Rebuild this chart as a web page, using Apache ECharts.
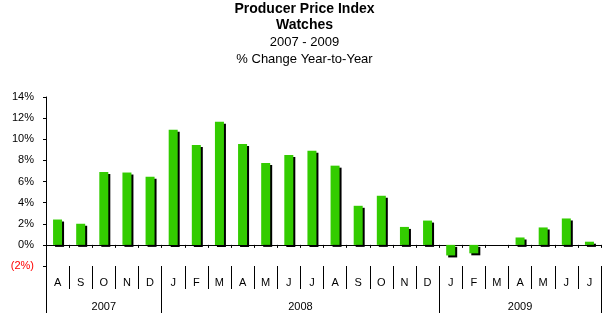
<!DOCTYPE html>
<html>
<head>
<meta charset="utf-8">
<script src="https://cdn.jsdelivr.net/npm/echarts@6/dist/echarts.min.js"></script>
<style>html,body{margin:0;padding:0;background:#fff}#c{width:609px;height:325px}</style>
</head>
<body>
<div id="c"></div>
<script>
var months = ['A','S','O','N','D','J','F','M','A','M','J','J','A','S','O','N','D','J','F','M','A','M','J','J'];
var values = [2.4,2.0,6.9,6.85,6.45,10.9,9.45,11.65,9.55,7.75,8.5,8.9,7.5,3.7,4.65,1.7,2.3,-1.0,-0.8,0,0.7,1.65,2.5,0.3];
var years = ['2007','2008','2009'];
var yearBounds = [0,5,17,24];
var yearCenters = [2.5,11,20.5];
var yTicks = {min:-2,max:14,interval:2};
var titles = ['Producer Price Index','Watches','2007 - 2009','% Change Year-to-Year'];

var FF = "'Liberation Sans', Arial, sans-serif";
var chart = echarts.init(document.getElementById('c'), null, {renderer:'canvas'});
var titleTops = [2,18,36,53];
chart.setOption({
  animation:false,
  backgroundColor:'#fff',
  title: titles.map(function(t,i){
    return {text:t, left:'center', top:titleTops[i], padding:0,
      textStyle:{fontFamily:FF, fontSize: i<2?14:13, fontWeight: i<2?'bold':'normal', color:'#000'}};
  }),
  grid:{left:46, right:8, top:97, bottom:59, containLabel:false},
  xAxis:[
    {type:'category', data:months, position:'bottom',
      axisLine:{onZero:true, lineStyle:{color:'#000', width:1}},
      axisTick:{show:true, length:3, lineStyle:{color:'#000'}},
      axisLabel:{show:false}},
    {type:'category', data:months, position:'bottom', offset:0,
      axisLine:{show:false, onZero:false},
      axisTick:{show:true, length:23, lineStyle:{color:'#000'}},
      axisLabel:{show:true, margin:11, fontFamily:FF, fontSize:11, color:'#000', interval:0}},
    {type:'value', min:0, max:24, position:'bottom', offset:0,
      splitLine:{show:false},
      axisLine:{show:false, onZero:false},
      axisTick:{show:true, length:47, customValues:yearBounds, lineStyle:{color:'#000'}},
      axisLabel:{show:true, margin:35, customValues:yearCenters, fontFamily:FF, fontSize:11, color:'#000',
        formatter:function(v){ return years[yearCenters.indexOf(v)] || ''; }}}
  ],
  yAxis:{type:'value', min:yTicks.min, max:yTicks.max, interval:yTicks.interval,
    splitLine:{show:false},
    axisLine:{show:true, onZero:false, lineStyle:{color:'#000'}},
    axisTick:{show:true, length:3, lineStyle:{color:'#000'}},
    axisLabel:{margin:12, fontFamily:FF, fontSize:11,
      color:function(v){ return Number(v)<0 ? '#ff0000' : '#000'; },
      formatter:function(v){ return v<0 ? '('+(-v)+'%)' : v+'%'; }}},
  series:[{
    type:'bar', xAxisIndex:0, data:values, barWidth:9,
    itemStyle:{color:'#33cc00', shadowColor:'#000', shadowOffsetX:2, shadowOffsetY:2, shadowBlur:0}
  }]
});
</script>
</body>
</html>
